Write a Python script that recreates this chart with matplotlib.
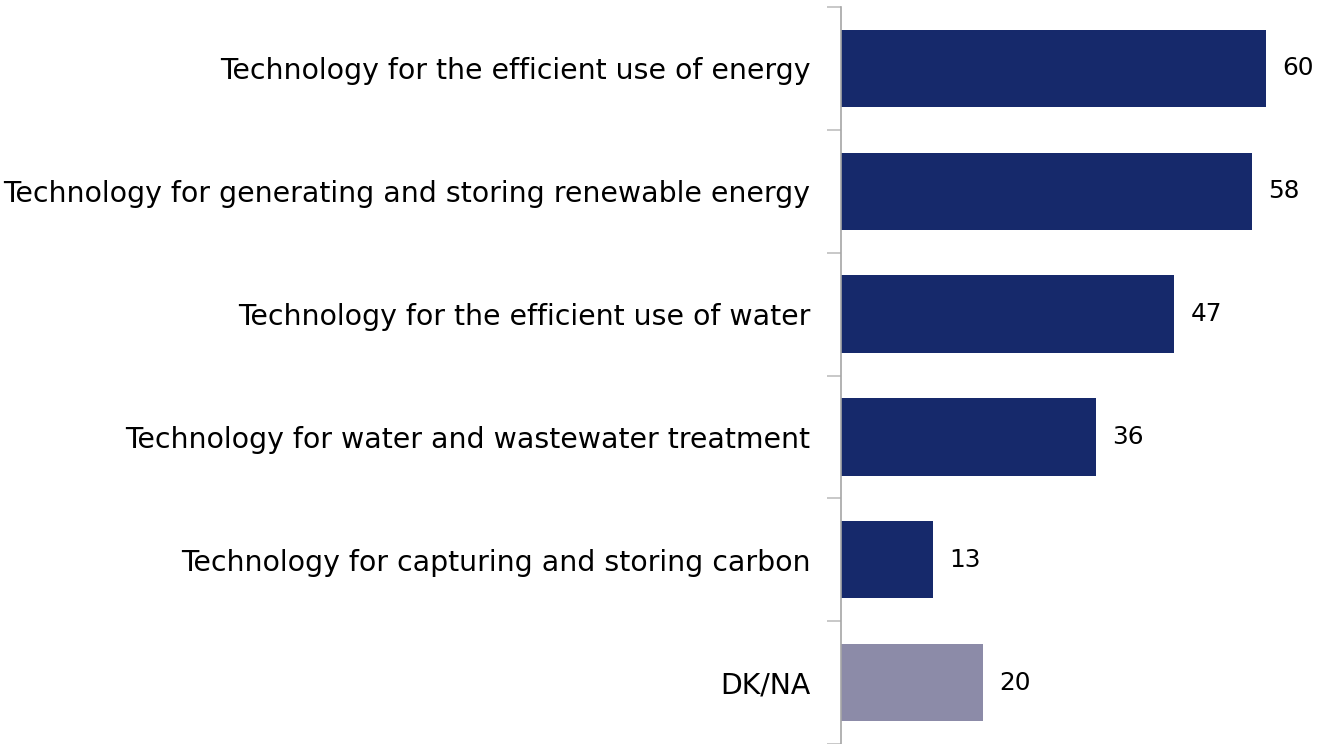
import matplotlib
matplotlib.use("Agg")
import matplotlib.pyplot as plt
from matplotlib.ticker import FixedLocator

categories = [
    "Technology for the efficient use of energy",
    "Technology for generating and storing renewable energy",
    "Technology for the efficient use of water",
    "Technology for water and wastewater treatment",
    "Technology for capturing and storing carbon",
    "DK/NA",
]
values = [60, 58, 47, 36, 13, 20]
colors = ["#16296B", "#16296B", "#16296B", "#16296B", "#16296B", "#8C8BA8"]

plt.rcParams['font.family'] = ['DejaVu Sans']
fig = plt.figure(figsize=(13.18, 7.44), dpi=100)
ax = fig.add_axes([841 / 1318, 0.0, 1 - 841 / 1318, (744 - 7) / 744])

n = len(categories)
ypos = list(range(n))
ax.barh(ypos, values, height=0.63, color=colors, zorder=2)
ax.set_ylim(n - 0.5, -0.5)
ax.set_xlim(0, 477 / 7.08)

for y, v in zip(ypos, values):
    ax.annotate(str(v), xy=(v, y), xytext=(12, 0), textcoords="offset points",
                va="center", ha="left", fontsize=17.8, color="#000000")

ax.set_yticks(ypos)
ax.set_yticklabels(categories, fontsize=20.4)
ax.yaxis.set_minor_locator(FixedLocator([i - 0.5 for i in range(n + 1)]))
ax.tick_params(axis="y", which="major", length=0, pad=22)
ax.tick_params(axis="y", which="minor", length=10, width=1.2, color="#BFBFBF", direction="out")
ax.set_xticks([])
for s in ["top", "right", "bottom"]:
    ax.spines[s].set_visible(False)
ax.spines["left"].set_color("#A6A6A6")
ax.spines["left"].set_linewidth(1.2)

fig.savefig("out.png", dpi=100)
